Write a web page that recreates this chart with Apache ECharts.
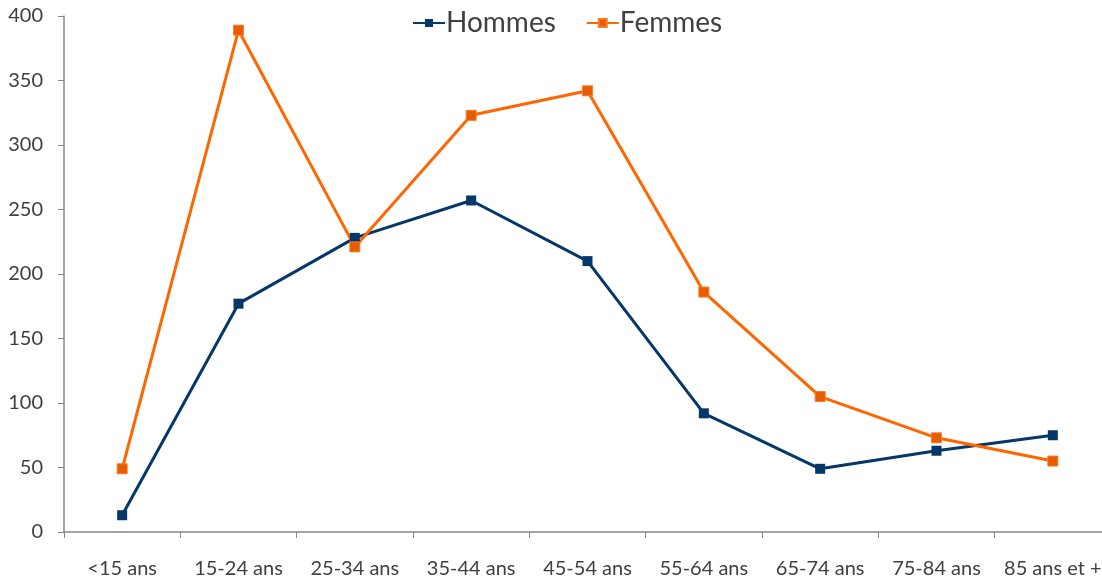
<!DOCTYPE html>
<html><head><meta charset="utf-8">
<script src="https://cdn.jsdelivr.net/npm/echarts@6/dist/echarts.min.js"></script>
<style>html,body{margin:0;padding:0;background:#fff;overflow:hidden}#c{width:1120px;height:579px}</style>
</head><body><div id="c"></div>
<script>
const categories = ['<15 ans','15-24 ans','25-34 ans','35-44 ans','45-54 ans','55-64 ans','65-74 ans','75-84 ans','85 ans et +'];
const hommes = [13, 177, 228, 257, 210, 92, 49, 63, 75];
const femmes = [49, 389, 221, 323, 342, 186, 105, 73, 55];
const yTicks = [0, 50, 100, 150, 200, 250, 300, 350, 400];

const chart = echarts.init(document.getElementById('c'));
const txt = '#404040';
const axisCol = '#868686';
chart.setOption({
  animation: false,
  textStyle: {fontFamily: 'Lato'},
  legend: {
    top: 4, left: 407,
    itemWidth: 32, itemHeight: 10, itemGap: 30,
    textStyle: {fontSize: 28, color: txt, fontFamily: 'Lato', padding: [0,0,0,-4]},
    data: ['Hommes','Femmes']
  },
  grid: {left: 64, top: 16, width: 1047, height: 517, containLabel: false},
  xAxis: {
    type: 'category', data: categories, boundaryGap: true,
    axisLine: {lineStyle: {color: axisCol, width: 1.5}},
    axisTick: {show: true, length: 6, lineStyle: {color: axisCol}},
    axisLabel: {color: txt, fontSize: 20, margin: 27, interval: 0}
  },
  yAxis: {
    type: 'value', min: yTicks[0], max: yTicks[yTicks.length-1], interval: 50,
    axisLine: {show: true, lineStyle: {color: axisCol, width: 1.5}},
    axisTick: {show: true, length: 6, lineStyle: {color: axisCol}},
    splitLine: {show: false},
    axisLabel: {color: txt, fontSize: 20, margin: 21}
  },
  series: [
    {name: 'Hommes', type: 'line', data: hommes, symbol: 'rect', symbolSize: 10,
     lineStyle: {color: '#053769', width: 3}, itemStyle: {color: '#053769', borderColor: '#053769', borderWidth: 0},
     color: '#053769'},
    {name: 'Femmes', type: 'line', data: femmes, symbol: 'rect', symbolSize: 10,
     lineStyle: {color: '#FF6600', width: 3}, itemStyle: {color: '#E65C00', borderColor: '#FF7A26', borderWidth: 1},
     color: '#FF6600'}
  ]
});
</script></body></html>
